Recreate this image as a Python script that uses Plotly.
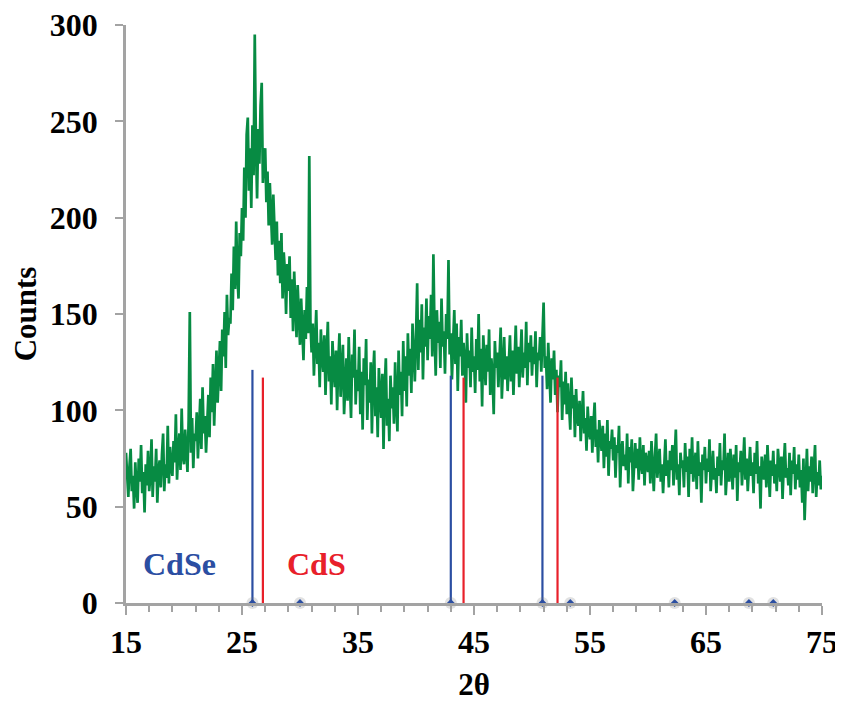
import numpy as np
import plotly.graph_objects as go

# XRD pattern, 2theta from 15 to 75 in steps of 0.1
two_theta = np.round(15 + 0.1 * np.arange(601), 1)
counts = [
    78, 62, 55, 71, 80, 58, 66, 49, 73, 60,
    52, 75, 63, 82, 57, 68, 47, 72, 61, 79,
    58, 66, 85, 55, 71, 63, 80, 52, 69, 74,
    60, 77, 88, 58, 72, 65, 92, 62, 81, 70,
    66, 84, 73, 98, 64, 79, 88, 69, 101, 76,
    72, 90, 81, 68, 95, 151, 78, 96, 70, 88,
    84, 99, 75, 92, 106, 80, 112, 88, 97, 78,
    94, 108, 86, 117, 99, 124, 92, 113, 131, 104,
    118, 136, 110, 142, 128, 151, 122, 160, 139, 148,
    145, 171, 152, 185, 163, 198, 170, 158, 192, 180,
    205, 188, 226, 200, 243, 252, 214, 236, 205, 248,
    222, 295, 238, 210, 246, 228, 258, 270, 218, 232,
    236, 208, 224, 196, 218, 200, 186, 212, 192, 178,
    198, 170, 188, 166, 192, 158, 182, 172, 150, 176,
    162, 180, 148, 168, 141, 172, 155, 138, 165, 150,
    134, 158, 145, 126, 152, 137, 164, 140, 232, 146,
    130, 145, 118, 138, 152, 124, 135, 112, 142, 128,
    120, 139, 108, 130, 146, 115, 128, 103, 136, 122,
    112, 131, 100, 125, 140, 107, 121, 134, 98, 118,
    127, 105, 138, 114, 96, 129, 117, 142, 103, 121,
    110, 133, 98, 120, 90, 127, 113, 137, 95, 116,
    104, 125, 88, 118, 131, 97, 112, 86, 122, 108,
    96, 119, 80, 111, 127, 92, 106, 84, 118, 101,
    112, 93, 125, 104, 89, 131, 108, 120, 97, 136,
    110, 128, 102, 140, 118, 132, 109, 145, 124, 115,
    138, 166, 121, 147, 130, 155, 116, 143, 133, 158,
    126, 149, 137, 160, 128, 181, 140, 118, 152, 135,
    146, 122, 158, 133, 141, 119, 150, 137, 178, 129,
    140, 116, 135, 152, 124, 145, 110, 138, 128, 147,
    118, 135, 126, 104, 140, 122, 131, 112, 143, 120,
    128, 109, 137, 121, 150, 115, 132, 102, 139, 124,
    113, 134, 120, 142, 108, 127, 118, 98, 136, 122,
    130, 112, 125, 143, 106, 121, 138, 116, 128, 110,
    124, 139, 115, 131, 108, 126, 144, 119, 133, 112,
    127, 142, 117, 130, 122, 146, 113, 135, 125, 139,
    118, 133, 124, 141, 112, 130, 126, 138, 120, 134,
    156, 122, 128, 111, 135, 119, 104, 127, 116, 131,
    108, 121, 99, 118, 112, 126, 95, 115, 103, 120,
    98, 114, 104, 90, 117, 101, 108, 86, 111, 96,
    92, 105, 84, 99, 110, 88, 96, 79, 102, 90,
    85, 97, 78, 93, 104, 81, 90, 73, 95, 86,
    79, 92, 70, 88, 76, 95, 66, 84, 80, 90,
    74, 86, 65, 82, 78, 92, 60, 79, 84, 71,
    77, 69, 88, 62, 81, 73, 85, 58, 76, 83,
    70, 80, 64, 86, 72, 67, 82, 61, 78, 74,
    68, 79, 62, 84, 71, 58, 76, 88, 65, 73,
    80, 63, 72, 57, 77, 85, 66, 74, 60, 79,
    69, 82, 61, 75, 90, 64, 72, 56, 78, 70,
    74, 60, 83, 68, 76, 55, 80, 67, 86, 63,
    71, 78, 59, 84, 66, 73, 52, 77, 69, 81,
    62, 75, 68, 85, 58, 72, 79, 64, 70, 57,
    76, 66, 83, 61, 74, 69, 88, 56, 71, 78,
    63, 80, 70, 59, 77, 65, 82, 53, 73, 68,
    79, 61, 72, 86, 64, 75, 58, 70, 81, 66,
    73, 57, 78, 67, 84, 62, 71, 49, 76, 69,
    64, 77, 60, 82, 70, 55, 74, 66, 79, 62,
    72, 58, 80, 68, 63, 76, 54, 71, 83, 65,
    70, 61, 78, 56, 74, 67, 81, 59, 72, 64,
    77, 60, 69, 52, 75, 43, 66, 80, 58, 71,
    63, 76, 57, 70, 82, 55, 68, 61, 74, 59,
    66,
]

# reference stick patterns
cdse_pos = [25.9, 43.0, 50.9]
cdse_int = [121, 118, 118]
cds_pos = [26.8, 44.1, 52.2]
cds_int = [117, 117, 117]
# small markers on the baseline
mark_pos = [25.9, 30.0, 43.0, 50.9, 53.3, 62.3, 68.7, 70.8]

y_ticks = [0, 50, 100, 150, 200, 250, 300]

GREEN = '#078b43'
BLUE = '#2b4ea2'
RED = '#e8202a'
FONT = 'Liberation Serif'


def sticks(pos, h):
    xs, ys = [], []
    for p, v in zip(pos, h):
        xs += [p, p, None]
        ys += [0, v, None]
    return xs, ys


fig = go.Figure()

fig.add_trace(go.Scatter(
    x=two_theta, y=counts, mode='lines',
    line=dict(color=GREEN, width=2.7), showlegend=False
))

bx, by = sticks(cdse_pos, cdse_int)
fig.add_trace(go.Scatter(x=bx, y=by, mode='lines',
                         line=dict(color=BLUE, width=2.2), showlegend=False))
rx, ry = sticks(cds_pos, cds_int)
fig.add_trace(go.Scatter(x=rx, y=ry, mode='lines',
                         line=dict(color=RED, width=2.2), showlegend=False))

# faint shadow then the diamonds
fig.add_trace(go.Scatter(x=mark_pos, y=[0] * len(mark_pos), mode='markers',
                         marker=dict(color='rgba(120,120,120,0.22)', size=12, symbol='circle'),
                         showlegend=False, cliponaxis=False))
fig.add_trace(go.Scatter(x=mark_pos, y=[0] * len(mark_pos), mode='markers',
                         marker=dict(color=BLUE, size=6, symbol='diamond'),
                         showlegend=False, cliponaxis=False))

fig.add_annotation(x=19.6, y=20.5, text='<b>CdSe</b>', showarrow=False,
                   font=dict(family=FONT, size=32, color=BLUE))
fig.add_annotation(x=31.4, y=20.5, text='<b>CdS</b>', showarrow=False,
                   font=dict(family=FONT, size=32, color=RED))

axis_col = '#a3a3a3'
tick_font = dict(family=FONT, size=32, color='black', weight='bold')
# page body has an 8px margin, so the figure is sized to fit inside it
fig.update_layout(
    width=835, height=694,
    margin=dict(l=118, r=21, t=17, b=99),
    paper_bgcolor='white', plot_bgcolor='white',
    font=dict(family=FONT, color='black'),
    xaxis=dict(
        range=[15, 75], tick0=15, dtick=10, showgrid=False, zeroline=False,
        automargin=False, ticklabeloverflow='allow',
        showline=True, linecolor=axis_col, linewidth=2.5,
        ticks='outside', ticklen=9, tickwidth=2, tickcolor=axis_col,
        minor=dict(dtick=2, tick0=15, ticks='outside', ticklen=6,
                   tickwidth=2, tickcolor=axis_col),
        tickfont=tick_font,
        title=dict(text='<b>2θ</b>', font=dict(family=FONT, size=31), standoff=22),
    ),
    yaxis=dict(
        range=[0, 300], tickmode='array', tickvals=y_ticks,
        showgrid=False, zeroline=False,
        automargin=False, ticklabeloverflow='allow',
        showline=True, linecolor=axis_col, linewidth=2.5,
        ticks='outside', ticklen=8, tickwidth=2, tickcolor=axis_col,
        ticklabelstandoff=11,
        tickfont=tick_font,
        title=dict(text='<b>Counts</b>', font=dict(family=FONT, size=31), standoff=4),
    ),
)

fig.write_html('out.html')
